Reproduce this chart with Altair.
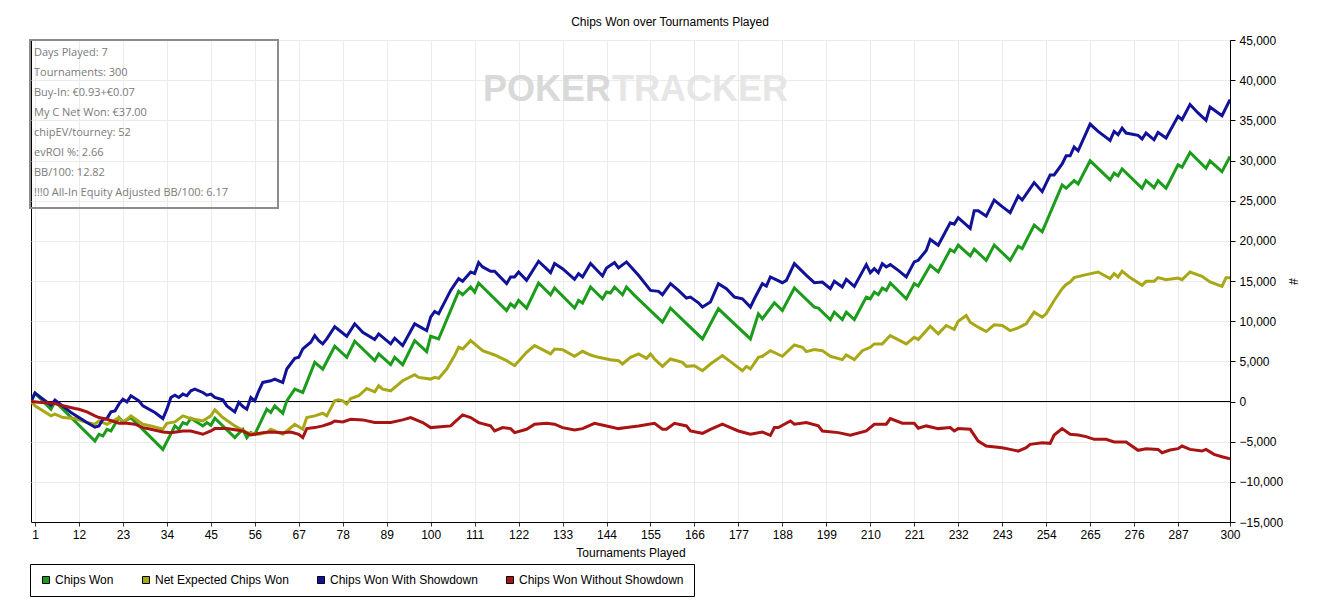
import altair as alt
import pandas as pd

# ---------------- data ----------------
series_names = ["Chips Won", "Net Expected Chips Won",
                "Chips Won With Showdown", "Chips Won Without Showdown"]
series_colors = ["#1b9c1b", "#a8a816", "#11119a", "#aa1313"]

x_ticks = [1, 12, 23, 34, 45, 56, 67, 78, 89, 100, 111, 122, 133, 144, 155,
           166, 177, 188, 199, 210, 221, 232, 243, 254, 265, 276, 287, 300]
y_ticks = [-15000, -10000, -5000, 0, 5000, 10000, 15000, 20000,
           25000, 30000, 35000, 40000, 45000]

info_lines = ["Days Played: 7", "Tournaments: 300", "Buy-In: €0.93+€0.07",
              "My C Net Won: €37.00", "chipEV/tourney: 52", "evROI %: 2.66",
              "BB/100: 12.82", "!!!0 All-In Equity Adjusted BB/100: 6.17"]

chips_won = [(0,0),(1,1040),(5,-960),(6,0),(16,-4920),(17,-4080),(18,-4290),(19,-3460),(20,-3670),
    (22,-2000),(23,-2540),(25,-2000),(33,-5960),(36,-3040),(37,-3460),(38,-2625),(39,-2830),(40,-2080),
    (43,-3040),(44,-2625),(45,-2960),(46,-2080),(51,-4500),(53,-3460),(54,-4500),(55,-3875),(56,-4080),
    (59,-960),(60,-1375),(61,-540),(63,-1460),(64,80),(66,1540),(68,1125),(71,4875),(73,4040),(76,6875),
    (79,5500),(81,7500),(86,5080),(87,5920),(90,4580),(91,5500),(93,4580),(96,7580),(99,6210),(100,8125),
    (102,7790),(107,13710),(108,13290),(110,14250),(111,13625),(112,14750),(119,11330),(120,12170),
    (121,11750),(122,12580),(124,11625),(127,14750),(130,13290),(131,14125),(136,11625),(137,12580),
    (138,12250),(140,14250),(143,12790),(144,13625),(145,13500),(146,14250),(148,13290),(149,14250),
    (151,13210),(158,9875),(160,11625),(168,7790),(172,11540),(180,7790),(182,10920),(183,10290),
    (186,12290),(188,11330),(191,14125),(196,11750),(197,11625),(200,10170),(201,11125),(203,10210),
    (204,11125),(206,10210),(209,13000),(210,12790),(211,13625),(212,13290),(213,14125),(214,13830),
    (215,14750),(219,12790),(221,14670),(222,14375),(225,16960),(227,16125),(230,18920),(231,18620),
    (232,19460),(235,18125),(236,18960),(239,17580),(241,19460),(245,17580),(247,19330),(248,19040),
    (251,21960),(253,21125),(258,26960),(259,26540),(261,27500),(262,27080),(265,29960),(270,27580),
    (271,28420),(272,28080),(273,28960),(278,26540),(279,27500),(281,26620),(282,27500),(284,26540),
    (287,29460),(288,29170),(290,31000),(294,29040),(295,29960),(298,28620),(300,30500)]

net_expected = [(0,0),(1,-540),(5,-1790),(6,-1580),(8,-2000),(11,-2125),(14,-2625),(16,-2830),(17,-2420),
    (18,-2625),(19,-2830),(22,-2000),(23,-2625),(25,-1790),(28,-2830),(30,-3040),(33,-3460),(34,-2710),
    (36,-2540),(38,-1790),(40,-2125),(43,-2420),(45,-1790),(46,-1040),(48,-2000),(51,-3040),(54,-3875),
    (57,-4080),(59,-3875),(60,-3460),(63,-4080),(64,-3670),(66,-2830),(68,-3460),(69,-2000),(71,-1790),
    (73,-1460),(74,-1790),(76,80),(77,210),(78,80),(79,-330),(80,375),(82,710),(84,1625),(86,1210),
    (87,1960),(88,1540),(90,1330),(92,2170),(93,2580),(96,3330),(97,3000),(100,2790),(101,3000),
    (102,2880),(104,4040),(106,5710),(107,6750),(108,6540),(110,7580),(111,7170),(113,6330),(116,5790),
    (119,5080),(121,4460),(123,5580),(124,6125),(126,6960),(128,6460),(130,5920),(131,6540),(133,6460),
    (136,5625),(138,6250),(140,5790),(142,5500),(145,5210),(147,5080),(148,4670),(150,5500),(151,5710),
    (152,5920),(154,5375),(155,5920),(156,5290),(158,4375),(160,5290),(163,4875),(164,4375),(166,4460),
    (168,3830),(170,4670),(173,5710),(175,4960),(178,3830),(179,4375),(180,4040),(182,5500),(183,5625),
    (185,6330),(188,5625),(191,7040),(193,6750),(194,6210),(196,6460),(198,6330),(200,5625),(203,5210),
    (204,5790),(206,5210),(208,6330),(210,6750),(211,7170),(213,7170),(215,8210),(219,7170),(221,8000),
    (222,7710),(225,9375),(227,8420),(229,9460),(231,8960),(232,10000),(234,10710),(235,9875),(237,9250),
    (239,8710),(241,9540),(243,9460),(245,8830),(247,9170),(249,9670),(251,11125),(253,10500),(254,10920),
    (256,12580),(258,14040),(259,14580),(260,14880),(261,15420),(264,15790),(267,16120),(270,15290),
    (271,15920),(272,15500),(273,16210),(275,15420),(278,14460),(279,14960),(281,14960),(282,15420),
    (284,15170),(287,15375),(288,15170),(290,16120),(293,15580),(295,14880),(298,14330),(299,15420),
    (300,15420)]

with_showdown = [(0,0),(1,1040),(5,-460),(6,170),(10,-1375),(14,-2625),(16,-3200),(17,-3040),(18,-2200),
    (19,-2125),(20,-1290),(21,-1170),(22,-330),(23,290),(24,-40),(25,710),(27,80),(28,-540),(31,-1375),
    (33,-2125),(34,-960),(35,500),(36,790),(37,500),(38,920),(39,710),(40,1330),(41,1540),(43,1125),
    (44,790),(45,920),(46,500),(48,210),(49,-540),(51,-1290),(52,-125),(53,-625),(54,-960),(55,500),
    (56,80),(57,1330),(58,2375),(60,2580),(61,2790),(62,2580),(63,2375),(64,4040),(66,5375),(67,5500),
    (68,6540),(70,7375),(71,8210),(72,7580),(73,7170),(74,7790),(76,9300),(79,8125),(81,9670),(83,8625),
    (86,7710),(87,8420),(90,7170),(91,7875),(93,6960),(96,9670),(99,8830),(100,10500),(101,11210),
    (102,10920),(105,13830),(107,15290),(108,14960),(110,16125),(111,15920),(112,17290),(113,16750),
    (115,16210),(116,16210),(119,14670),(120,15500),(121,15500),(122,16125),(124,15080),(127,17460),
    (130,16040),(131,17170),(133,16540),(136,15210),(137,15920),(138,15500),(140,17170),(143,15625),
    (144,16625),(146,17290),(147,16625),(149,17375),(152,15710),(155,13830),(157,13710),(158,13290),
    (160,14670),(162,13830),(164,12875),(165,13000),(167,12290),(168,11750),(170,12375),(172,14670),
    (174,14040),(176,13000),(178,12790),(180,11750),(181,12790),(183,14670),(184,14375),(185,15500),
    (188,14790),(189,15080),(191,17170),(194,15710),(196,14790),(198,14875),(200,14040),(201,14960),
    (203,14250),(204,15210),(206,14330),(209,17040),(210,16040),(211,16540),(212,16040),(213,17170),
    (214,16750),(215,17040),(217,16330),(219,15500),(221,17375),(222,17580),(224,18800),(225,20170),
    (227,19460),(230,22250),(231,22080),(232,22875),(235,21540),(236,23750),(237,23750),(239,23080),
    (241,25080),(243,24250),(245,23500),(247,25580),(248,25080),(251,27250),(253,26125),(255,28210),
    (256,28210),(258,29580),(259,30580),(260,30580),(261,31670),(262,31210),(265,34540),(267,33625),
    (270,32500),(271,33625),(272,33210),(273,34040),(274,33420),(277,33125),(278,32670),(279,33420),
    (281,32580),(282,33500),(284,32790),(287,35500),(288,35080),(290,36960),(292,35920),(294,35000),
    (295,36670),(298,35580),(300,37580)]

without_showdown = [(0,0),(2,-100),(6,-250),(8,-540),(11,-875),(12,-960),(14,-1290),(16,-1790),(17,-2000),
    (19,-2210),(21,-2540),(22,-2710),(24,-2710),(26,-2830),(28,-3250),(30,-3460),(33,-3790),(35,-3875),
    (38,-3670),(40,-3670),(43,-4080),(45,-3670),(46,-3375),(49,-3375),(53,-3670),(55,-4170),(58,-3875),
    (60,-3790),(63,-3875),(65,-3790),(67,-4080),(68,-4500),(69,-3375),(71,-3250),(73,-3040),(75,-2710),
    (76,-2420),(78,-2540),(80,-2210),(83,-2290),(86,-2625),(90,-2625),(93,-2290),(95,-2000),(98,-2625),
    (100,-3250),(105,-3040),(108,-1670),(110,-2000),(112,-2625),(115,-3040),(116,-3670),(118,-3250),
    (120,-3375),(121,-3875),(124,-3460),(126,-2830),(129,-2710),(131,-2830),(133,-3250),(136,-3540),
    (138,-3375),(141,-2710),(144,-3040),(147,-3375),(149,-3250),(152,-3040),(156,-2710),(158,-3460),
    (159,-3460),(161,-2710),(164,-3040),(165,-3670),(168,-3960),(170,-3460),(173,-2830),(175,-3250),
    (177,-3670),(180,-4080),(183,-3790),(185,-4210),(186,-3250),(187,-3250),(190,-2420),(191,-2830),
    (194,-2625),(197,-3040),(198,-3670),(202,-3875),(205,-4210),(209,-3670),(211,-2830),(214,-2830),
    (215,-2125),(218,-2710),(221,-2710),(222,-3330),(224,-3040),(227,-3375),(230,-3250),(231,-3670),
    (232,-3375),(235,-3460),(237,-4920),(239,-5540),(243,-5750),(245,-5960),(247,-6170),(249,-5750),
    (250,-5330),(253,-5125),(255,-5210),(256,-4170),(258,-3375),(260,-4080),(262,-4170),(264,-4375),
    (266,-4710),(269,-4710),(271,-5040),(274,-5040),(277,-6080),(279,-5875),(282,-5960),(283,-6375),
    (285,-6040),(287,-5875),(288,-5540),(290,-5960),(293,-6170),(294,-5960),(296,-6580),(298,-6875),
    (300,-7125)]

# ---------------- tables ----------------
rows = []
for name, pts in zip(series_names, [chips_won, net_expected, with_showdown, without_showdown]):
    for t, v in pts:
        rows.append({"t": t, "v": v, "series": name})
df = pd.DataFrame(rows)
legend_df = pd.DataFrame({"series": series_names, "t": [150] * 4, "v": [-1e7] * 4})
one = pd.DataFrame({"k": [0]})

FONT = "Liberation Sans, Arial, sans-serif"
W, H = 1199, 482

x_scale = alt.Scale(domain=[0, 300], nice=False, zero=False)
y_scale = alt.Scale(domain=[-15000, 45000], nice=False, zero=False)

x_axis = alt.Axis(values=x_ticks, title="Tournaments Played", grid=True,
                  gridColor="#ebebeb", tickColor="#333333", tickSize=4,
                  labelPadding=3, labelFlush=False, labelOverlap=False,
                  labelFont=FONT, labelFontSize=12, labelColor="black",
                  titleFont=FONT, titleFontSize=12, titleFontWeight="normal",
                  titleColor="black", titlePadding=7, domainColor="black")
y_axis = alt.Axis(orient="right", values=y_ticks, format=",d", title="#",
                  grid=True, gridColor="#ebebeb", tickColor="black", tickSize=5,
                  labelPadding=4, labelOverlap=False, labelFlush=False,
                  labelFont=FONT, labelFontSize=12, labelColor="black",
                  titleFont=FONT, titleFontSize=12, titleFontWeight="normal",
                  titleColor="black", titlePadding=3, domainColor="black")

x_enc = alt.X("t:Q", scale=x_scale, axis=x_axis)
y_enc = alt.Y("v:Q", scale=y_scale, axis=y_axis)

color_scale = alt.Scale(domain=series_names, range=series_colors)

lines = alt.Chart(df).mark_line(strokeWidth=3, clip=True).encode(
    x=x_enc, y=y_enc,
    color=alt.Color("series:N", sort=series_names, scale=color_scale, legend=None),
)

legend_layer = alt.Chart(legend_df).mark_square(clip=True, stroke="black", strokeWidth=1,
                                               opacity=1).encode(
    x=x_enc, y=y_enc,
    fill=alt.Fill("series:N", sort=series_names, scale=color_scale,
                  legend=alt.Legend(title=None, orient="none", legendX=-1, legendY=524,
                                    direction="horizontal", columns=4,
                                    symbolType="square", symbolSize=49,
                                    symbolStrokeColor="black", symbolStrokeWidth=1,
                                    labelFont=FONT, labelFontSize=12, labelColor="black",
                                    labelLimit=400, labelOffset=3, columnPadding=26,
                                    padding=10, strokeColor="black", fillColor="white")),
)

zero = alt.Chart(one).mark_rule(color="black", strokeWidth=1).encode(
    y=alt.YDatum(0, scale=y_scale, axis=y_axis))

wm1 = alt.Chart(one).mark_text(text="POKER", font=FONT, fontSize=36, fontWeight="bold",
                               color="#d9d9d9", align="right", baseline="middle").encode(
    x=alt.value(580), y=alt.value(50))
wm2 = alt.Chart(one).mark_text(text="TRACKER", font=FONT, fontSize=36, fontWeight="bold",
                               color="#e6e6e6", align="left", baseline="middle").encode(
    x=alt.value(581), y=alt.value(50))

title_txt = alt.Chart(one).mark_text(text="Chips Won over Tournaments Played", font=FONT,
                                     fontSize=12, color="black", align="center",
                                     baseline="middle").encode(
    x=alt.value(639), y=alt.value(-18))

info_box = alt.Chart(one).mark_rect(fill="white", fillOpacity=0, stroke="#8c8c8c",
                                    strokeWidth=2).encode(
    x=alt.value(-1), x2=alt.value(247), y=alt.value(0), y2=alt.value(168))
info_txt = alt.Chart(one).mark_text(text=info_lines, font="Open Sans, sans-serif", fontSize=11,
                                    lineHeight=20, color="#7a7a7a", align="left",
                                    baseline="alphabetic").encode(
    x=alt.value(3), y=alt.value(16))

chart = alt.layer(wm1, wm2, zero, legend_layer, lines, info_box, info_txt, title_txt).resolve_scale(
    color="independent", fill="independent"
).properties(
    width=W, height=H,
    padding={"left": 23, "top": 32, "right": 80, "bottom": 78},
    autosize=alt.AutoSizeParams(type="none"),
    background="white",
).configure_view(stroke="black", strokeWidth=1)

chart.save("out.html", embed_options={"renderer": "svg", "actions": False})
